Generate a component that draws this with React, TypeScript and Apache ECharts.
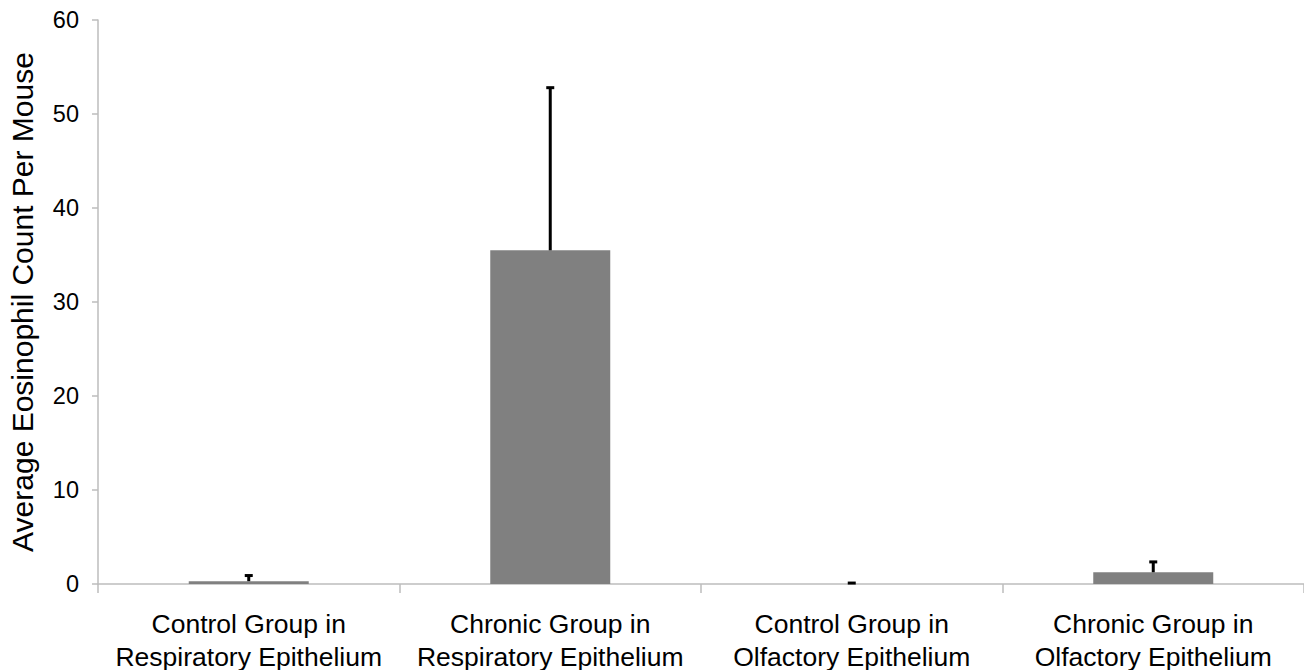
import React, { useEffect, useRef } from "react";
import * as echarts from "echarts";

const categories = [
  "Control Group in\nRespiratory Epithelium",
  "Chronic Group in\nRespiratory Epithelium",
  "Control Group in\nOlfactory Epithelium",
  "Chronic Group in\nOlfactory Epithelium",
];
const means = [0.3, 35.5, 0, 1.25];
const errors = [0.6, 17.3, 0.1, 1.1];
const yTicks = { min: 0, max: 60, interval: 10 };

export default function App() {
  const ref = useRef<HTMLDivElement>(null);
  useEffect(() => {
    if (!ref.current) return;
    const chart = echarts.init(ref.current, null, { renderer: "svg" });
    const font = "Liberation Sans, Arial, sans-serif";
    chart.setOption({
      animation: false,
      backgroundColor: "#ffffff",
      grid: {
        left: 98,
        right: 0,
        top: 20,
        bottom: 86,
        containLabel: false,
        outerBoundsMode: "none",
      },
      xAxis: {
        type: "category",
        data: categories,
        axisLine: { lineStyle: { color: "#bdbdbd", width: 1.5 } },
        axisTick: { show: true, length: 9, lineStyle: { color: "#bdbdbd", width: 1.5 } },
        axisLabel: {
          color: "#000",
          fontSize: 26.5,
          fontFamily: font,
          lineHeight: 33,
          margin: 23,
          interval: 0,
          hideOverlap: false,
        },
      },
      yAxis: {
        type: "value",
        min: yTicks.min,
        max: yTicks.max,
        interval: yTicks.interval,
        name: "Average Eosinophil Count Per Mouse",
        nameLocation: "middle",
        nameGap: 61,
        nameTextStyle: { color: "#000", fontSize: 30, fontFamily: font },
        splitLine: { show: false },
        axisLine: { show: true, lineStyle: { color: "#bdbdbd", width: 1.5 } },
        axisTick: { show: true, length: 6, lineStyle: { color: "#bdbdbd", width: 1.5 } },
        axisLabel: { color: "#000", fontSize: 23.5, fontFamily: font, margin: 19 },
      },
      series: [
        {
          type: "bar",
          data: means,
          barWidth: 120,
          itemStyle: { color: "#808080" },
          z: 2,
        },
        {
          type: "custom",
          z: 3,
          data: means.map((m, i) => [i, m, m + errors[i]]),
          renderItem: (params: any, api: any) => {
            const x = api.value(0);
            const lo = api.coord([x, api.value(1)]);
            const hi = api.coord([x, api.value(2)]);
            const cap = 4;
            return {
              type: "group",
              children: [
                {
                  type: "line",
                  shape: { x1: lo[0], y1: lo[1], x2: hi[0], y2: hi[1] },
                  style: { stroke: "#000", lineWidth: 3 },
                },
                {
                  type: "line",
                  shape: { x1: hi[0] - cap, y1: hi[1], x2: hi[0] + cap, y2: hi[1] },
                  style: { stroke: "#000", lineWidth: 3 },
                },
              ],
            };
          },
        },
      ],
    });
    return () => chart.dispose();
  }, []);
  return <div ref={ref} style={{ width: 1304, height: 670, position: "absolute", left: 0, top: 0 }} />;
}
